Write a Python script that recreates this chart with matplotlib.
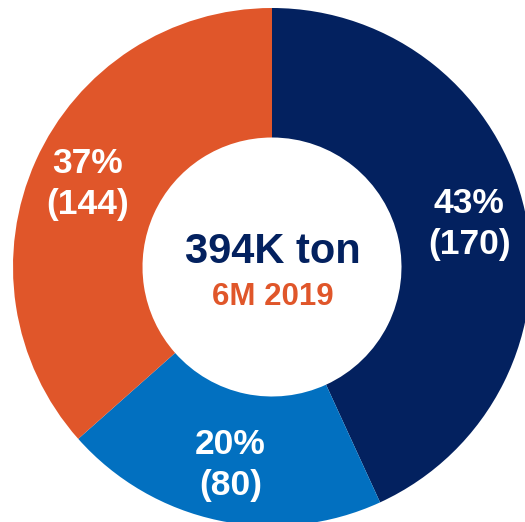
import matplotlib.pyplot as plt

plt.rcParams['font.family'] = ['Liberation Sans', 'DejaVu Sans']

# data
segments = ['A', 'B', 'C']
values = [170, 80, 144]
colors = ['#03215F', '#0270C0', '#E0562A']
total_label = '394K ton'
period_label = '6M 2019'

total = sum(values)


def fmt(p):
    return '{:.0f}%\n({})'.format(p, int(round(p * total / 100)))


fig = plt.figure(figsize=(5.25, 5.22), dpi=100)
ax = fig.add_axes([0, 0, 1, 1])

cx, cy, r = 272, 522 - 267, 259
wedges, texts, autotexts = ax.pie(values, colors=colors, startangle=90, counterclock=False,
                                  center=(cx, cy), radius=r, autopct=fmt, pctdistance=0.78,
                                  wedgeprops=dict(width=r * 0.5, edgecolor='none', linewidth=0),
                                  textprops=dict(color='white', fontsize=25.5, fontweight='bold',
                                                 linespacing=1.3))
ax.set_xlim(0, 525)
ax.set_ylim(0, 522)
ax.axis('off')

ax.text(cx + 1, 522 - 252, total_label, ha='center', va='center', fontsize=30,
        fontweight='bold', color=colors[0])
ax.text(cx + 1, 522 - 297, period_label, ha='center', va='center', fontsize=22.5,
        fontweight='bold', color=colors[2])

fig.savefig('out.png', dpi=100)
